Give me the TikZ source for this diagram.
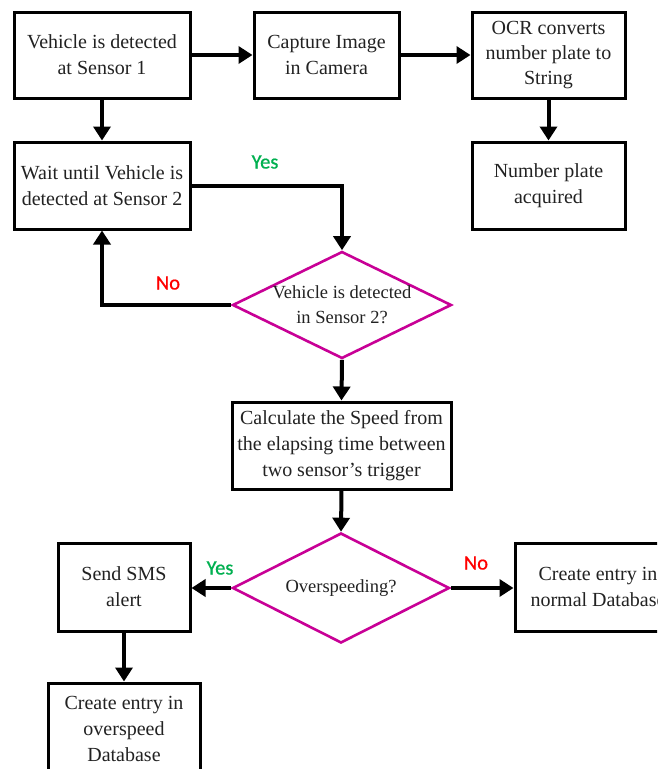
\documentclass[tikz,border=0pt]{standalone}
\usepackage{fontspec}
\setmainfont{Liberation Serif}
\newfontfamily\labelfont[BoldFont=Carlito, BoldFeatures={FakeBold=0.8}]{Carlito}
\usetikzlibrary{arrows.meta,shapes.geometric}
\definecolor{diamag}{RGB}{200,0,150}
\definecolor{yesgreen}{RGB}{0,176,80}
\definecolor{nored}{RGB}{255,0,0}
\definecolor{txt}{RGB}{34,34,34}
\begin{document}
\begin{tikzpicture}[x=1pt,y=-1pt,
  box/.style={draw=black, line width=3pt, inner sep=0pt, align=center,
    font=\fontsize{20}{26}\selectfont, text=txt},
  dec/.style={diamond, draw=diamag, line width=2.6pt, inner sep=0pt},
  dectext/.style={align=center, inner sep=0pt, font=\fontsize{18.5}{25}\selectfont, text=txt},
  arr/.style={line width=4pt, -{Triangle[length=14pt,width=17pt]}},
  yeslab/.style={text=yesgreen, font=\labelfont\bfseries\fontsize{20.5}{24}\selectfont, inner sep=0pt},
  nolab/.style={text=nored, font=\labelfont\bfseries\fontsize{20.5}{24}\selectfont, inner sep=0pt}]
\useasboundingbox (0,0) rectangle (657,769);
\clip (0,0) rectangle (657,769);
\fill[white] (0,0) rectangle (657,769);
% boxes
\node[box, minimum width=176pt, minimum height=86pt] (A) at (102,55) {Vehicle is detected\\at Sensor 1};
\node[box, minimum width=145pt, minimum height=86pt] (B) at (326.5,55) {Capture Image\\in Camera};
\node[box, minimum width=153pt, minimum height=86pt, font=\fontsize{20}{25}\selectfont] (C) at (548.5,55) {OCR converts\\number plate to\\String};
\node[box, minimum width=153pt, minimum height=87pt] (D) at (548.5,185.5) {Number plate\\acquired};
\node[box, minimum width=176pt, minimum height=87pt] (E) at (102,185.5) {Wait until Vehicle is\\detected at Sensor 2};
\node[dec, minimum width=219pt, minimum height=107pt] (d1) at (342,305) {};
\node[dectext] (d1t) at (d1.center) {Vehicle is detected\\in Sensor 2?};
\node[box, minimum width=219pt, minimum height=87pt] (F) at (341.5,445.5) {Calculate the Speed from\\the elapsing time between\\two sensor’s trigger};
\node[dec, minimum width=217pt, minimum height=110pt] (d2) at (341,588) {};
\node[dectext] (d2t) at (d2.center) {Overspeeding?};
\node[box, minimum width=132pt, minimum height=88pt] (G) at (124,587) {Send SMS\\alert};
\node[box, minimum width=152pt, minimum height=92pt] (H) at (124,729) {Create entry in\\overspeed\\Database};
\node[box, minimum width=166pt, minimum height=88pt] (I) at (598,587) {Create entry in\\normal Database};
% connectors
\draw[arr] (A) -- (B);
\draw[arr] (B) -- (C);
\draw[arr] (A) -- (E);
\draw[arr] (C) -- (D);
\draw[arr] (E.east) -| (d1.north);
\draw[arr] (d1.west) -| (E.south);
\draw[arr] (d1.south) -- (F.north);
\draw[arr] (F.south) -- (d2.north);
\draw[arr] (d2.west) -- (d2.west -| G.east);
\draw[arr] (d2.east) -- (d2.east -| I.west);
\draw[arr] (G.south) -- (H.north);
% labels
\node[yeslab] (y1) at (265,162) {Yes};
\node[nolab] (n1) at (168,283) {No};
\node[yeslab] (y2) at (220,568) {Yes};
\node[nolab] (n2) at (476,563) {No};
\end{tikzpicture}
\end{document}
